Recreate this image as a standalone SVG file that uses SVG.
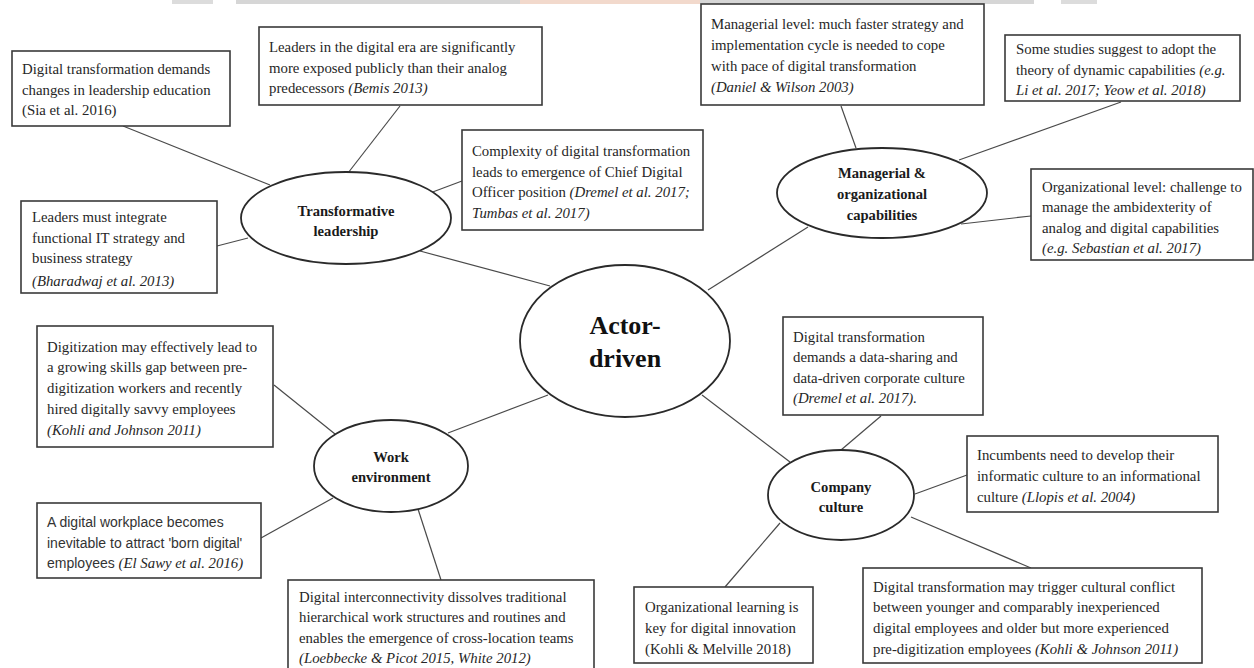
<svg xmlns="http://www.w3.org/2000/svg" width="1254" height="668" viewBox="0 0 1254 668">
<style>
.box{fill:#fff;stroke:#3a3a3a;stroke-width:1.6}
.ell{fill:#fff;stroke:#2a2a2a;stroke-width:1.8}
.t{font-family:"Liberation Serif","Times New Roman",serif;font-size:14.8px;fill:#262626}
.s{font-family:"Liberation Sans",Arial,sans-serif;font-size:14px;fill:#333}
.i{font-style:italic}
.lb{font-family:"Liberation Serif","Times New Roman",serif;font-size:14.6px;font-weight:bold;fill:#1a1a1a;text-anchor:middle}
.big{font-family:"Liberation Serif","Times New Roman",serif;font-size:26px;font-weight:bold;fill:#111;text-anchor:middle}
#connectors line{stroke:#4a4a4a;stroke-width:1.2}
</style>
<rect width="1254" height="668" fill="#fff"/>
<g id="watermark">
<rect x="172" y="0" width="41" height="4" fill="#dcdcdc"/>
<rect x="236" y="0" width="284" height="4" fill="#d6d6d6"/>
<rect x="520" y="0" width="180" height="4" fill="#f2d9cc"/>
<rect x="700" y="0" width="334" height="4" fill="#d6d6d6"/>
<rect x="1061" y="0" width="36" height="4" fill="#dcdcdc"/>
</g>
<g id="connectors">
<line x1="123" y1="126" x2="270" y2="185"/>
<line x1="400" y1="106" x2="348" y2="173"/>
<line x1="217" y1="246" x2="248" y2="238"/>
<line x1="462" y1="181" x2="430" y2="193"/>
<line x1="420" y1="251" x2="550" y2="286"/>
<line x1="708" y1="290" x2="808" y2="227"/>
<line x1="841" y1="106" x2="856" y2="148"/>
<line x1="1121" y1="102" x2="959" y2="160"/>
<line x1="1031" y1="216" x2="961" y2="224"/>
<line x1="702" y1="395" x2="790" y2="462"/>
<line x1="881" y1="416" x2="841" y2="450"/>
<line x1="967" y1="475" x2="915" y2="494"/>
<line x1="1031" y1="568" x2="911" y2="517"/>
<line x1="725" y1="587" x2="780" y2="523"/>
<line x1="548" y1="395" x2="448" y2="433"/>
<line x1="274" y1="385" x2="335" y2="434"/>
<line x1="261" y1="538" x2="333" y2="498"/>
<line x1="441" y1="580" x2="418" y2="509"/>
</g>
<g id="actor-driven">
<ellipse class="ell" cx="625" cy="341" rx="105" ry="76"/>
<text class="big" x="625" y="334">Actor-</text>
<text class="big" x="625" y="367">driven</text>
</g>
<g id="transformative-leadership">
<ellipse class="ell" cx="346" cy="218" rx="105" ry="46"/>
<text class="lb" x="346" y="216">Transformative</text>
<text class="lb" x="346" y="236">leadership</text>
</g>
<g id="managerial-capabilities">
<ellipse class="ell" cx="882" cy="193" rx="105" ry="45"/>
<text class="lb" x="882" y="178">Managerial &amp;</text>
<text class="lb" x="882" y="199">organizational</text>
<text class="lb" x="882" y="220">capabilities</text>
</g>
<g id="company-culture">
<ellipse class="ell" cx="841" cy="495" rx="73" ry="45"/>
<text class="lb" x="841" y="492">Company</text>
<text class="lb" x="841" y="512">culture</text>
</g>
<g id="work-environment">
<ellipse class="ell" cx="391" cy="466" rx="77" ry="46"/>
<text class="lb" x="391" y="462">Work</text>
<text class="lb" x="391" y="482">environment</text>
</g>
<g id="box-leadership-education">
<rect class="box" x="12" y="51" width="218" height="75"/>
<text class="t" x="22" y="74">Digital transformation demands</text>
<text class="t" x="22" y="94.5">changes in leadership education</text>
<text class="t" x="22" y="115">(Sia et al. 2016)</text>
</g>
<g id="box-leaders-exposed">
<rect class="box" x="259" y="27" width="283" height="78"/>
<text class="t" x="269" y="52">Leaders in the digital era are significantly</text>
<text class="t" x="269" y="72.5">more exposed publicly than their analog</text>
<text class="t" x="269" y="93">predecessors <tspan class="i">(Bemis 2013)</tspan></text>
</g>
<g id="box-it-strategy">
<rect class="box" x="21" y="201" width="196" height="92"/>
<text class="t" x="32" y="222">Leaders must integrate</text>
<text class="t" x="32" y="243">functional IT strategy and</text>
<text class="t" x="32" y="263">business strategy</text>
<text class="t i" x="32" y="286">(Bharadwaj et al. 2013)</text>
</g>
<g id="box-cdo">
<rect class="box" x="462" y="130" width="241" height="100"/>
<text class="t" x="472" y="156">Complexity of digital transformation</text>
<text class="t" x="472" y="177">leads to emergence of Chief Digital</text>
<text class="t" x="472" y="197">Officer position <tspan class="i">(Dremel et al. 2017;</tspan></text>
<text class="t i" x="472" y="218">Tumbas et al. 2017)</text>
</g>
<g id="box-managerial-level">
<rect class="box" x="701" y="4" width="283" height="101"/>
<text class="t" x="711" y="29">Managerial level: much faster strategy and</text>
<text class="t" x="711" y="50">implementation cycle is needed to cope</text>
<text class="t" x="711" y="71">with pace of digital transformation</text>
<text class="t i" x="711" y="92">(Daniel &amp; Wilson 2003)</text>
</g>
<g id="box-dynamic-capabilities">
<rect class="box" x="1005" y="35" width="235" height="66"/>
<text class="t" x="1016" y="54">Some studies suggest to adopt the</text>
<text class="t" x="1016" y="75">theory of dynamic capabilities <tspan class="i">(e.g.</tspan></text>
<text class="t i" x="1016" y="95">Li et al. 2017; Yeow et al. 2018)</text>
</g>
<g id="box-organizational-level">
<rect class="box" x="1031" y="169" width="222" height="91"/>
<text class="t" x="1042" y="192">Organizational level: challenge to</text>
<text class="t" x="1042" y="212">manage the ambidexterity of</text>
<text class="t" x="1042" y="233">analog and digital capabilities</text>
<text class="t i" x="1042" y="253">(e.g. Sebastian et al. 2017)</text>
</g>
<g id="box-data-culture">
<rect class="box" x="783" y="317" width="200" height="98"/>
<text class="t" x="793" y="342">Digital transformation</text>
<text class="t" x="793" y="362">demands a data-sharing and</text>
<text class="t" x="793" y="383">data-driven corporate culture</text>
<text class="t i" x="793" y="403">(Dremel et al. 2017).</text>
</g>
<g id="box-informational-culture">
<rect class="box" x="967" y="436" width="251" height="76"/>
<text class="t" x="977" y="460">Incumbents need to develop their</text>
<text class="t" x="977" y="481">informatic culture to an informational</text>
<text class="t" x="977" y="502">culture <tspan class="i">(Llopis et al. 2004)</tspan></text>
</g>
<g id="box-cultural-conflict">
<rect class="box" x="863" y="568" width="339" height="95"/>
<text class="t" x="873" y="592">Digital transformation may trigger cultural conflict</text>
<text class="t" x="873" y="612">between younger and comparably inexperienced</text>
<text class="t" x="873" y="633">digital employees and older but more experienced</text>
<text class="t" x="873" y="654">pre-digitization employees <tspan class="i">(Kohli &amp; Johnson 2011)</tspan></text>
</g>
<g id="box-organizational-learning">
<rect class="box" x="634" y="587" width="179" height="76"/>
<text class="t" x="645" y="612">Organizational learning is</text>
<text class="t" x="645" y="633">key for digital innovation</text>
<text class="t" x="645" y="654">(Kohli &amp; Melville 2018)</text>
</g>
<g id="box-skills-gap">
<rect class="box" x="37" y="326" width="236" height="121"/>
<text class="t" x="47" y="352">Digitization may effectively lead to</text>
<text class="t" x="47" y="372">a growing skills gap between pre-</text>
<text class="t" x="47" y="393">digitization workers and recently</text>
<text class="t" x="47" y="414">hired digitally savvy employees</text>
<text class="t i" x="47" y="435">(Kohli and Johnson 2011)</text>
</g>
<g id="box-digital-workplace">
<rect class="box" x="37" y="503" width="224" height="75"/>
<text class="s" x="47" y="527">A digital workplace becomes</text>
<text class="s" x="47" y="548">inevitable to attract 'born digital'</text>
<text class="s" x="47" y="568">employees  <tspan class="t i">(El Sawy et al. 2016)</tspan></text>
</g>
<g id="box-interconnectivity">
<rect class="box" x="288" y="580" width="306" height="95"/>
<text class="t" x="299" y="602">Digital interconnectivity dissolves traditional</text>
<text class="t" x="299" y="622">hierarchical work structures and routines and</text>
<text class="t" x="299" y="643">enables the emergence of cross-location teams</text>
<text class="t i" x="299" y="663">(Loebbecke &amp; Picot 2015, White 2012)</text>
</g>
</svg>
